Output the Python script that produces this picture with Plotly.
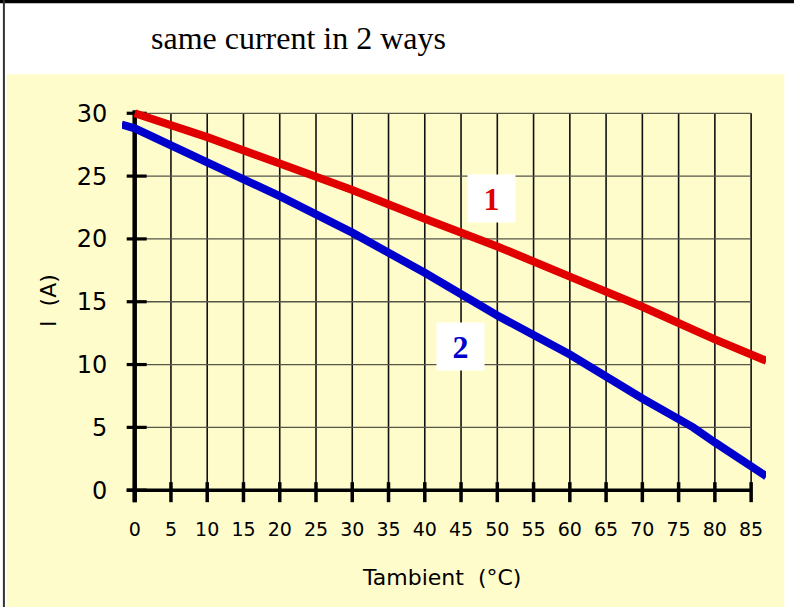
import plotly.graph_objects as go

# ---- data ----
x_ticks = [0, 5, 10, 15, 20, 25, 30, 35, 40, 45, 50, 55, 60, 65, 70, 75, 80, 85]
y_ticks = [0, 5, 10, 15, 20, 25, 30]

red_x = [0, 10, 20, 30, 40, 50, 60, 70, 80, 87.1]
red_y = [30.0, 28.1, 26.0, 23.9, 21.6, 19.4, 17.0, 14.6, 12.0, 10.3]

blue_x = [-1.8, 0, 10, 20, 30, 40, 50, 60, 70, 77, 80, 87.1]
blue_y = [29.1, 28.8, 26.1, 23.4, 20.5, 17.3, 13.9, 10.8, 7.3, 5.0, 3.8, 1.1]

title_text = "same current in 2 ways"
x_title = "Tambient\u00a0 (°C)"
y_title = "I\u00a0 (A)"

# ---- layout geometry ----
W, H = 794, 607
XR = [-1.75, 87.05]
YR = [-1.1, 30.5]
ML, MR, MT, MB = 122.3, 28.2, 106.7, 103.2
PW = W - ML - MR
PH = H - MT - MB
px_x = PW / (XR[1] - XR[0])   # pixels per x unit
px_y = PH / (YR[1] - YR[0])   # pixels per y unit


def paper_x(px):
    return (px - ML) / PW


def paper_y(py):
    return (H - MB - py) / PH


fig = go.Figure()
fig.add_trace(go.Scatter(x=red_x, y=red_y, mode="lines",
                         line=dict(color="#E00000", width=8), hoverinfo="skip"))
fig.add_trace(go.Scatter(x=blue_x, y=blue_y, mode="lines",
                         line=dict(color="#0000CC", width=8), hoverinfo="skip"))

shapes = []
# page background / frame
shapes.append(dict(type="rect", xref="paper", yref="paper", layer="below",
                   x0=paper_x(7), x1=paper_x(784), y0=paper_y(74), y1=paper_y(H + 5),
                   fillcolor="#FFFCCC", line=dict(width=0)))
shapes.append(dict(type="rect", xref="paper", yref="paper", layer="below",
                   x0=paper_x(-5), x1=paper_x(W + 5), y0=paper_y(3), y1=paper_y(-5),
                   fillcolor="#000000", line=dict(width=0)))
shapes.append(dict(type="rect", xref="paper", yref="paper", layer="below",
                   x0=paper_x(3.3), x1=paper_x(5.3), y0=paper_y(H + 5), y1=paper_y(0),
                   fillcolor="#333333", line=dict(width=0)))

xmax = x_ticks[-1]
ymax = y_ticks[-1]
# grid lines
for xv in x_ticks[1:]:
    shapes.append(dict(type="line", xref="x", yref="y", layer="below",
                       x0=xv, x1=xv, y0=0, y1=ymax,
                       line=dict(color="#111111", width=1.6)))
for yv in y_ticks[1:]:
    shapes.append(dict(type="line", xref="x", yref="y", layer="below",
                       x0=0, x1=xmax, y0=yv, y1=yv,
                       line=dict(color="#555548", width=1.3)))
# axis lines
shapes.append(dict(type="line", xref="x", yref="y", layer="below",
                   x0=-8 / px_x, x1=xmax + 1 / px_x, y0=0, y1=0,
                   line=dict(color="#000000", width=3.5)))
shapes.append(dict(type="line", xref="x", yref="y", layer="below",
                   x0=0, x1=0, y0=-12 / px_y, y1=ymax + 3 / px_y,
                   line=dict(color="#000000", width=4.5)))
# crossing tick marks
for xv in x_ticks:
    shapes.append(dict(type="line", xref="x", yref="y", layer="below",
                       x0=xv, x1=xv, y0=-12 / px_y, y1=8 / px_y,
                       line=dict(color="#000000", width=3.5)))
for yv in y_ticks:
    shapes.append(dict(type="line", xref="x", yref="y", layer="below",
                       x0=-8 / px_x, x1=12 / px_x, y0=yv, y1=yv,
                       line=dict(color="#000000", width=3.2)))

annotations = [
    dict(text=title_text, xref="paper", yref="paper", x=paper_x(298.5), y=paper_y(38),
         xanchor="center", yanchor="middle", showarrow=False,
         font=dict(family="Liberation Serif", size=32, color="#000000")),
    dict(text=x_title, xref="paper", yref="paper", x=paper_x(441.5), y=paper_y(577),
         xanchor="center", yanchor="middle", showarrow=False,
         font=dict(family="DejaVu Sans", size=22, color="#000000")),
    dict(text=y_title, xref="paper", yref="paper", x=paper_x(49), y=paper_y(300),
         xanchor="center", yanchor="middle", showarrow=False, textangle=-90,
         font=dict(family="DejaVu Sans", size=22, color="#000000")),
    dict(text="<b>1</b>", xref="x", yref="y", x=49.2, y=23.2,
         xanchor="center", yanchor="middle", showarrow=False,
         width=47, height=47, bgcolor="#FFFFFF", borderpad=0,
         font=dict(family="Liberation Serif", size=32, color="#E00000")),
    dict(text="<b>2</b>", xref="x", yref="y", x=44.9, y=11.4,
         xanchor="center", yanchor="middle", showarrow=False,
         width=47, height=47, bgcolor="#FFFFFF", borderpad=0,
         font=dict(family="Liberation Serif", size=32, color="#0000CC")),
]

fig.update_layout(
    width=W, height=H,
    margin=dict(l=ML, r=MR, t=MT, b=MB, pad=0),
    paper_bgcolor="#FFFFFF",
    plot_bgcolor="rgba(0,0,0,0)",
    showlegend=False,
    shapes=shapes,
    annotations=annotations,
    xaxis=dict(range=XR, tickvals=x_ticks, ticktext=[str(v) for v in x_ticks],
               showgrid=False, zeroline=False, showline=False,
               ticks="outside", ticklen=8, tickcolor="rgba(0,0,0,0)",
               tickfont=dict(family="DejaVu Sans", size=19, color="#000000"),
               fixedrange=True, automargin=False),
    yaxis=dict(range=YR, tickvals=y_ticks, ticktext=[str(v) for v in y_ticks],
               showgrid=False, zeroline=False, showline=False,
               ticks="outside", ticklen=9, tickcolor="rgba(0,0,0,0)",
               tickfont=dict(family="DejaVu Sans", size=24, color="#000000"),
               fixedrange=True, automargin=False),
)

fig.write_html(
    "out.html",
    config={"displayModeBar": False},
    post_script="document.body.style.margin='0';document.body.style.overflow='hidden';",
)
